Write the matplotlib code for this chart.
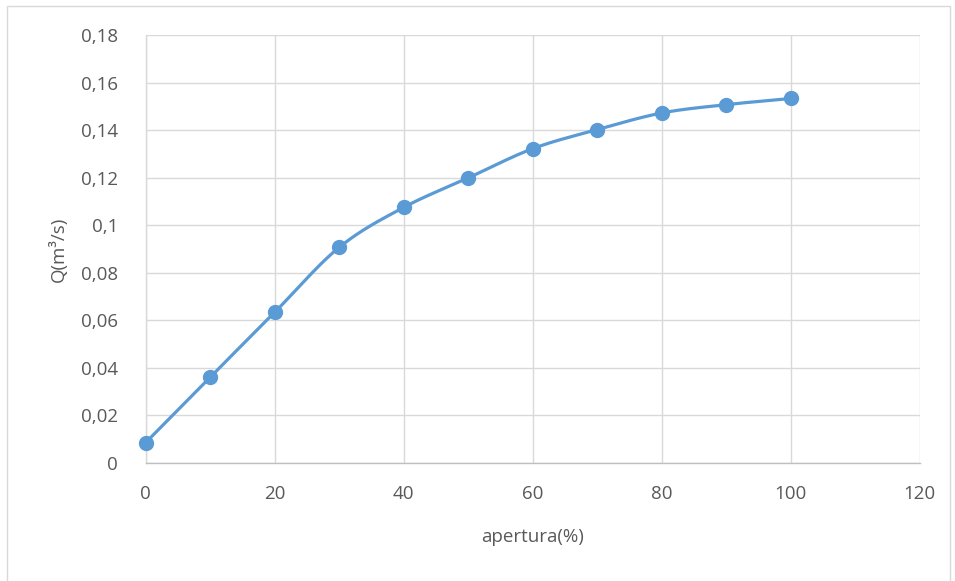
import numpy as np
import matplotlib
matplotlib.use("Agg")
import matplotlib.pyplot as plt
from matplotlib.patches import Rectangle
from matplotlib.ticker import FuncFormatter

# Opening of the valve (%) and resulting flow rate Q (m3/s)
apertura = [0, 10, 20, 30, 40, 50, 60, 70, 80, 90, 100]
caudal = [0.0086, 0.0361, 0.0634, 0.0907, 0.1075, 0.1199, 0.1322,
          0.1402, 0.1472, 0.1507, 0.1533]

x_ticks = [0, 20, 40, 60, 80, 100, 120]
y_ticks = [0, 0.02, 0.04, 0.06, 0.08, 0.1, 0.12, 0.14, 0.16, 0.18]

LINE_COLOR = "#5B9BD5"
GRID_COLOR = "#D9D9D9"
TEXT_COLOR = "#595959"

plt.rcParams["font.family"] = ["Open Sans", "DejaVu Sans"]


def smooth_curve(xs, ys, n=30):
    """Catmull-Rom path through the points (smoothed line look)."""
    xs = np.asarray(xs, float)
    ys = np.asarray(ys, float)
    px = np.concatenate([[2 * xs[0] - xs[1]], xs, [2 * xs[-1] - xs[-2]]])
    py = np.concatenate([[2 * ys[0] - ys[1]], ys, [2 * ys[-1] - ys[-2]]])
    out_x, out_y = [], []
    t = np.linspace(0, 1, n, endpoint=False)
    for i in range(1, len(px) - 2):
        for p, out in ((px, out_x), (py, out_y)):
            p0, p1, p2, p3 = p[i - 1], p[i], p[i + 1], p[i + 2]
            seg = 0.5 * ((2 * p1) + (-p0 + p2) * t
                         + (2 * p0 - 5 * p1 + 4 * p2 - p3) * t ** 2
                         + (-p0 + 3 * p1 - 3 * p2 + p3) * t ** 3)
            out.extend(seg)
    out_x.append(xs[-1])
    out_y.append(ys[-1])
    return np.array(out_x), np.array(out_y)


fig = plt.figure(figsize=(9.55, 5.81), dpi=100)
fig.patch.set_facecolor("white")
fig.patches.append(Rectangle((7 / 955, -0.01), 943 / 955, 1 - 6 / 581 + 0.01,
                             transform=fig.transFigure, fill=False,
                             edgecolor="#D9D9D9", linewidth=1.0))

ax = fig.add_axes([145.7 / 955, 118 / 581, 774 / 955, 428 / 581])

sx, sy = smooth_curve(apertura, caudal)
ax.plot(sx, sy, color=LINE_COLOR, linewidth=2.3, solid_capstyle="round", zorder=3)
ax.plot(apertura, caudal, linestyle="none", marker="o", markersize=10,
        color=LINE_COLOR, zorder=4, clip_on=False)

ax.set_xlim(0, 120)
ax.set_ylim(0, 0.18)
ax.set_xticks(x_ticks)
ax.set_yticks(y_ticks)
ax.yaxis.set_major_formatter(FuncFormatter(
    lambda v, _: "0" if v == 0 else f"{v:.2f}".rstrip("0").replace(".", ",")))
ax.xaxis.set_major_formatter(FuncFormatter(lambda v, _: f"{int(v)}"))

ax.grid(True, color=GRID_COLOR, linewidth=1.0)
ax.set_axisbelow(True)
for side in ("top", "right"):
    ax.spines[side].set_visible(False)
ax.spines["left"].set_color(GRID_COLOR)
ax.spines["bottom"].set_color("#BFBFBF")
ax.spines["left"].set_linewidth(1.0)
ax.spines["bottom"].set_linewidth(1.0)

ax.tick_params(axis="both", length=0, labelsize=13.5, labelcolor=TEXT_COLOR)
ax.tick_params(axis="x", pad=16)
ax.tick_params(axis="y", pad=20)

ax.set_xlabel("apertura(%)", fontsize=13.5, color=TEXT_COLOR, labelpad=18)
ax.set_ylabel("Q(m³/s)", fontsize=13.5, color=TEXT_COLOR, labelpad=9)

fig.savefig("out.png", dpi=100, facecolor="white")
